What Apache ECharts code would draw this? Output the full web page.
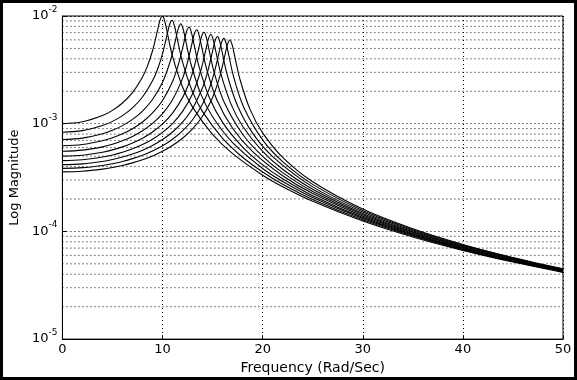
<!DOCTYPE html>
<html><head><meta charset="utf-8">
<script src="https://cdn.jsdelivr.net/npm/echarts@6/dist/echarts.min.js"></script>
<style>html,body{margin:0;padding:0;background:#fff}#c{width:577px;height:380px}</style>
</head><body><div id="c"></div>
<script>
const xTicks = [0, 10, 20, 30, 40, 50];
const yDecades = [1e-5, 1e-4, 1e-3, 1e-2];
const minorGrid = [2e-5,3e-5,4e-5,5e-5,6e-5,7e-5,8e-5,9e-5,
                   2e-4,3e-4,4e-4,5e-4,6e-4,7e-4,8e-4,9e-4,
                   2e-3,3e-3,4e-3,5e-3,6e-3,7e-3,8e-3,9e-3];

const k100 = [[0,1.0e-3],[2,1.041e-3],[4,1.189e-3],[5,1.330e-3],[6,1.556e-3],[7,1.943e-3],[8,2.712e-3],[8.5,3.446e-3],[9,4.757e-3],[9.5,7.347e-3],[9.75,9.150e-3],[10,1.0e-2],[10.25,8.747e-3],[10.5,6.815e-3],[11,4.218e-3],[12,2.193e-3],[13,1.424e-3],[15,7.943e-4],[17,5.270e-4],[20,3.326e-4],[22,2.600e-4],[25,1.903e-4],[30,1.249e-4],[35,8.885e-5],[40,6.664e-5],[45,5.193e-5],[50,4.166e-5]];
const k120 = [[0,8.333e-4],[2,8.619e-4],[4,9.608e-4],[5,1.051e-3],[6,1.188e-3],[7,1.402e-3],[8,1.768e-3],[9,2.499e-3],[9.5,3.202e-3],[10,4.472e-3],[10.5,6.979e-3],[10.75,8.599e-3],[10.95,9.132e-3],[11.2,8.031e-3],[11.45,6.270e-3],[12,3.727e-3],[13,1.973e-3],[14,1.294e-3],[16,7.302e-4],[18,4.883e-4],[20,3.562e-4],[22,2.742e-4],[25,1.978e-4],[30,1.281e-4],[35,9.045e-5],[40,6.754e-5],[45,5.248e-5],[50,4.201e-5]];
const k140 = [[0,7.143e-4],[2,7.353e-4],[4,8.060e-4],[5,8.687e-4],[6,9.600e-4],[7,1.096e-3],[8,1.309e-3],[9,1.676e-3],[10,2.425e-3],[10.8,3.885e-3],[11.3,5.985e-3],[11.55,7.518e-3],[11.83,8.453e-3],[12.08,7.431e-3],[12.33,5.805e-3],[12.83,3.603e-3],[13.83,1.883e-3],[15,1.159e-3],[17,6.668e-4],[20,3.835e-4],[22,2.901e-4],[25,2.059e-4],[30,1.315e-4],[35,9.212e-5],[40,6.847e-5],[45,5.304e-5],[50,4.236e-5]];
const k160 = [[0,6.25e-4],[2,6.410e-4],[4,6.942e-4],[5,7.402e-4],[6,8.055e-4],[7,8.991e-4],[8,1.038e-3],[9,1.258e-3],[10,1.644e-3],[11,2.468e-3],[11.65,3.713e-3],[12.15,5.764e-3],[12.4,7.204e-3],[12.65,7.905e-3],[12.9,6.942e-3],[13.15,5.426e-3],[13.65,3.373e-3],[14.65,1.768e-3],[16,1.028e-3],[18,6.061e-4],[20,4.152e-4],[22,3.079e-4],[25,2.147e-4],[30,1.350e-4],[35,9.385e-5],[40,6.942e-5],[45,5.361e-5],[50,4.273e-5]];
const k180 = [[0,5.556e-4],[2,5.682e-4],[4,6.096e-4],[5,6.448e-4],[6,6.939e-4],[7,7.623e-4],[8,8.600e-4],[9,1.006e-3],[10,1.240e-3],[11,1.666e-3],[12,2.635e-3],[12.42,3.499e-3],[12.92,5.441e-3],[13.17,6.799e-3],[13.42,7.452e-3],[13.67,6.536e-3],[13.92,5.107e-3],[14.42,3.181e-3],[15.42,1.672e-3],[17,9.065e-4],[19,5.495e-4],[22,3.281e-4],[25,2.244e-4],[30,1.388e-4],[35,9.564e-5],[40,7.039e-5],[45,5.419e-5],[50,4.309e-5]];
const k200 = [[0,5.0e-4],[2,5.102e-4],[4,5.434e-4],[5,5.712e-4],[6,6.093e-4],[7,6.615e-4],[8,7.340e-4],[9,8.380e-4],[10,9.950e-4],[11,1.254e-3],[12,1.746e-3],[12.64,2.371e-3],[13.14,3.297e-3],[13.64,5.126e-3],[13.89,6.416e-3],[14.14,7.072e-3],[14.39,6.238e-3],[14.64,4.882e-3],[15.14,3.039e-3],[16.14,1.597e-3],[18,7.981e-4],[20,4.975e-4],[22,3.511e-4],[25,2.349e-4],[30,1.427e-4],[35,9.750e-5],[40,7.140e-5],[45,5.478e-5],[50,4.347e-5]];
const k220 = [[0,4.545e-4],[2,4.630e-4],[4,4.901e-4],[5,5.127e-4],[6,5.432e-4],[7,5.843e-4],[8,6.402e-4],[9,7.179e-4],[10,8.304e-4],[11,1.004e-3],[12,1.300e-3],[13,1.900e-3],[13.83,3.136e-3],[14.33,4.880e-3],[14.58,6.113e-3],[14.83,6.743e-3],[15.08,5.952e-3],[15.33,4.661e-3],[15.83,2.903e-3],[16.83,1.528e-3],[18,9.474e-4],[20,5.522e-4],[22,3.775e-4],[25,2.464e-4],[30,1.469e-4],[35,9.944e-5],[40,7.243e-5],[45,5.538e-5],[50,4.385e-5]];
const k240 = [[0,4.167e-4],[2,4.237e-4],[4,4.464e-4],[5,4.650e-4],[6,4.900e-4],[7,5.232e-4],[8,5.676e-4],[9,6.279e-4],[10,7.125e-4],[11,8.368e-4],[12,1.034e-3],[13,1.385e-3],[14,2.166e-3],[14.49,2.998e-3],[14.99,4.669e-3],[15.24,5.851e-3],[15.49,6.456e-3],[15.74,5.701e-3],[15.99,4.465e-3],[16.49,2.783e-3],[17.49,1.467e-3],[19,8.165e-4],[21,4.948e-4],[25,2.592e-4],[30,1.514e-4],[35,1.015e-4],[40,7.350e-5],[45,5.600e-5],[50,4.424e-5]];
const k260 = [[0,3.846e-4],[2,3.906e-4],[4,4.098e-4],[5,4.254e-4],[6,4.463e-4],[7,4.737e-4],[8,5.098e-4],[9,5.579e-4],[10,6.238e-4],[11,7.172e-4],[12,8.575e-4],[13,1.088e-3],[14,1.527e-3],[14.62,2.061e-3],[15.12,2.870e-3],[15.62,4.470e-3],[15.87,5.606e-3],[16.12,6.203e-3],[16.37,5.491e-3],[16.62,4.306e-3],[17.12,2.684e-3],[18.12,1.415e-3],[20,7.071e-4],[22,4.443e-4],[25,2.733e-4],[30,1.561e-4],[35,1.036e-4],[40,7.459e-5],[45,5.664e-5],[50,4.463e-5]];
const k280 = [[0,3.571e-4],[2,3.623e-4],[4,3.787e-4],[5,3.921e-4],[6,4.097e-4],[7,4.327e-4],[8,4.626e-4],[9,5.020e-4],[10,5.547e-4],[11,6.274e-4],[12,7.324e-4],[13,8.948e-4],[14,1.174e-3],[14.73,1.545e-3],[15.23,1.984e-3],[15.73,2.765e-3],[16.23,4.309e-3],[16.48,5.405e-3],[16.73,5.977e-3],[16.98,5.289e-3],[17.23,4.147e-3],[17.73,2.587e-3],[18.73,1.365e-3],[20,8.220e-4],[22,4.874e-4],[25,2.891e-4],[30,1.611e-4],[35,1.058e-4],[40,7.572e-5],[45,5.729e-5],[50,4.503e-5]];

const curves = [k100, k120, k140, k160, k180, k200, k220, k240, k260, k280];

const FONT = 'DejaVu Sans';
const dotted = { color: '#000', width: 1, type: [1, 3] };

const series = [];
minorGrid.forEach(v => {
  series.push({
    type: 'line',
    data: [[xTicks[0], v], [xTicks[xTicks.length - 1], v]],
    showSymbol: false,
    silent: true,
    z: 1,
    lineStyle: dotted
  });
});
curves.forEach(d => {
  series.push({
    type: 'line',
    data: d,
    showSymbol: false,
    smooth: 0.35,
    lineStyle: { color: '#000', width: 1.1 },
    z: 3,
    silent: true
  });
});

const chart = echarts.init(document.getElementById('c'), null, { renderer: 'canvas' });
chart.setOption({
  animation: false,
  backgroundColor: '#fff',
  grid: { left: 58, right: 14, top: 16, bottom: 37, show: true, borderColor: '#000', borderWidth: 1, backgroundColor: 'transparent' },
  xAxis: {
    type: 'value', min: xTicks[0], max: xTicks[xTicks.length - 1], interval: 10,
    axisLine: { lineStyle: { color: '#000', width: 1 } },
    axisTick: { inside: true, length: 4, lineStyle: { color: '#000' } },
    axisLabel: { color: '#000', fontSize: 13, fontFamily: FONT, margin: 4 },
    splitLine: { show: true, lineStyle: dotted },
    name: 'Frequency (Rad/Sec)', nameLocation: 'middle', nameGap: 20,
    nameTextStyle: { color: '#000', fontSize: 14, fontFamily: FONT }
  },
  yAxis: {
    type: 'log', logBase: 10, min: yDecades[0], max: yDecades[yDecades.length - 1],
    axisLine: { show: true, lineStyle: { color: '#000', width: 1 } },
    axisTick: { show: true, inside: true, length: 4, lineStyle: { color: '#000' } },
    axisLabel: {
      color: '#000', fontFamily: FONT, margin: 5,
      formatter: v => '{b|10}{e|' + Math.round(Math.log10(v)) + '}',
      rich: {
        b: { fontSize: 13, fontFamily: FONT, color: '#000', lineHeight: 22 },
        e: { fontSize: 9, fontFamily: FONT, color: '#000', verticalAlign: 'top', lineHeight: 10 }
      }
    },
    splitLine: { show: true, lineStyle: dotted },
    name: 'Log Magnitude', nameLocation: 'middle', nameGap: 28, nameRotate: 90,
    nameTextStyle: { color: '#000', fontSize: 13, fontFamily: FONT }
  },
  graphic: [{
    type: 'rect', silent: true, z: 100,
    shape: { x: 1.5, y: 1.5, width: 574, height: 377 },
    style: { fill: 'none', stroke: '#000', lineWidth: 3 }
  }],
  series: series
});
</script></body></html>
